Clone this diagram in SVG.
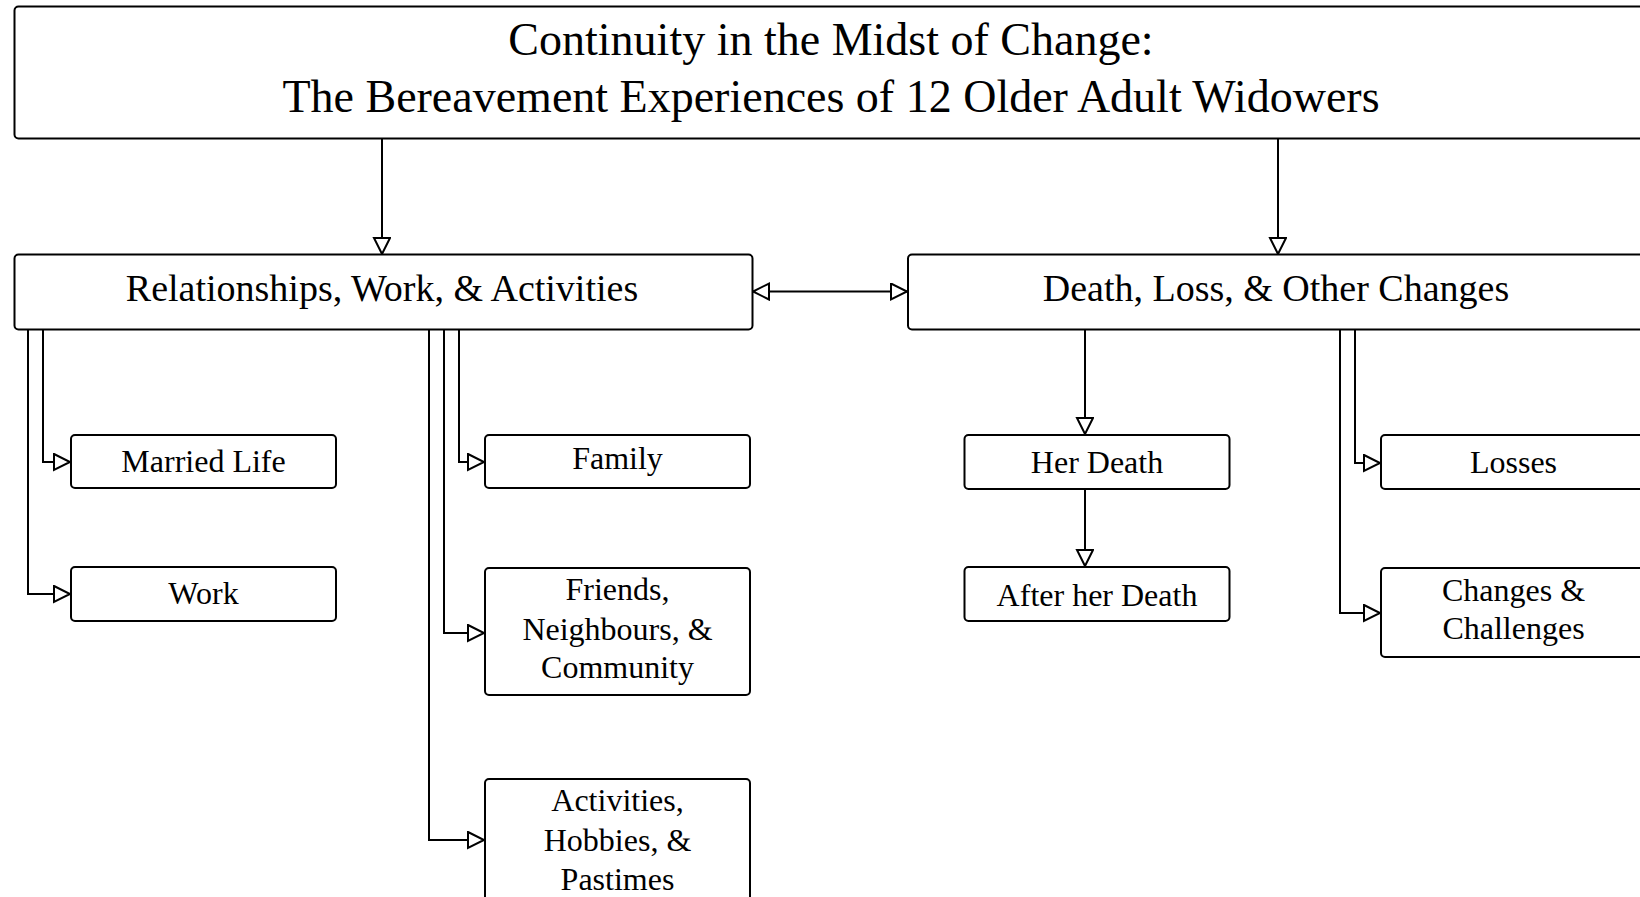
<svg xmlns="http://www.w3.org/2000/svg" width="1640" height="897" viewBox="0 0 1640 897">
<style>
.box{fill:#fff;stroke:#000;stroke-width:2}
.t{font-family:"Liberation Serif","Times New Roman",serif;fill:#000;text-anchor:middle}
.title{font-size:46px}
.main{font-size:38px}
.sub{font-size:32px}
.con{fill:none;stroke:#000;stroke-width:2}
</style>
<defs>
<marker id="tri" markerUnits="userSpaceOnUse" viewBox="0 0 20 20" refX="17" refY="9" markerWidth="20" markerHeight="20" orient="auto-start-reverse">
<path d="M1,1 L17,9 L1,17 Z" fill="#fff" stroke="#000" stroke-width="2" stroke-linejoin="miter"/>
</marker>
</defs>
<rect width="1640" height="897" fill="#fff"/>
<g id="connectors">
<path class="con" d="M382,138 V254" marker-end="url(#tri)"/>
<path class="con" d="M1278,138 V254" marker-end="url(#tri)"/>
<path class="con" d="M753,291.5 H907" marker-start="url(#tri)" marker-end="url(#tri)"/>
<path class="con" d="M43,330 V462 H70" marker-end="url(#tri)"/>
<path class="con" d="M28,330 V594 H70" marker-end="url(#tri)"/>
<path class="con" d="M459,330 V462 H484" marker-end="url(#tri)"/>
<path class="con" d="M444,330 V633 H484" marker-end="url(#tri)"/>
<path class="con" d="M429,330 V840 H484" marker-end="url(#tri)"/>
<path class="con" d="M1085,330 V434" marker-end="url(#tri)"/>
<path class="con" d="M1085,489 V566" marker-end="url(#tri)"/>
<path class="con" d="M1355,330 V463 H1380" marker-end="url(#tri)"/>
<path class="con" d="M1340,330 V613 H1380" marker-end="url(#tri)"/>
</g>
<g id="title">
<rect class="box" x="14.5" y="6.5" width="1634" height="132" rx="4"/>
<text class="t title" x="831" y="55">Continuity in the Midst of Change:</text>
<text class="t title" x="831" y="112">The Bereavement Experiences of 12 Older Adult Widowers</text>
</g>
<g id="relationships">
<rect class="box" x="14.5" y="254.5" width="738" height="75" rx="4"/>
<text class="t main" x="382" y="301">Relationships, Work, &amp; Activities</text>
</g>
<g id="death">
<rect class="box" x="908" y="254.5" width="740" height="75" rx="4"/>
<text class="t main" x="1276" y="301">Death, Loss, &amp; Other Changes</text>
</g>
<g id="married-life">
<rect class="box" x="71" y="435" width="265" height="53" rx="4"/>
<text class="t sub" x="203.5" y="472">Married Life</text>
</g>
<g id="work">
<rect class="box" x="71" y="567" width="265" height="54" rx="4"/>
<text class="t sub" x="203.5" y="604">Work</text>
</g>
<g id="family">
<rect class="box" x="485" y="435" width="265" height="53" rx="4"/>
<text class="t sub" x="617.5" y="469">Family</text>
</g>
<g id="friends">
<rect class="box" x="485" y="568" width="265" height="127" rx="4"/>
<text class="t sub" x="617.5" y="600">Friends,</text>
<text class="t sub" x="617.5" y="639.5">Neighbours, &amp;</text>
<text class="t sub" x="617.5" y="678">Community</text>
</g>
<g id="activities">
<rect class="box" x="485" y="779" width="265" height="130" rx="4"/>
<text class="t sub" x="617.5" y="811">Activities,</text>
<text class="t sub" x="617.5" y="851">Hobbies, &amp;</text>
<text class="t sub" x="617.5" y="890">Pastimes</text>
</g>
<g id="her-death">
<rect class="box" x="964.5" y="435" width="265" height="54" rx="4"/>
<text class="t sub" x="1097" y="473">Her Death</text>
</g>
<g id="after-her-death">
<rect class="box" x="964.5" y="567" width="265" height="54" rx="4"/>
<text class="t sub" x="1097" y="606">After her Death</text>
</g>
<g id="losses">
<rect class="box" x="1381" y="435" width="265" height="54" rx="4"/>
<text class="t sub" x="1513.5" y="473">Losses</text>
</g>
<g id="changes">
<rect class="box" x="1381" y="568" width="265" height="89" rx="4"/>
<text class="t sub" x="1513.5" y="601">Changes &amp;</text>
<text class="t sub" x="1513.5" y="639">Challenges</text>
</g>
</svg>
